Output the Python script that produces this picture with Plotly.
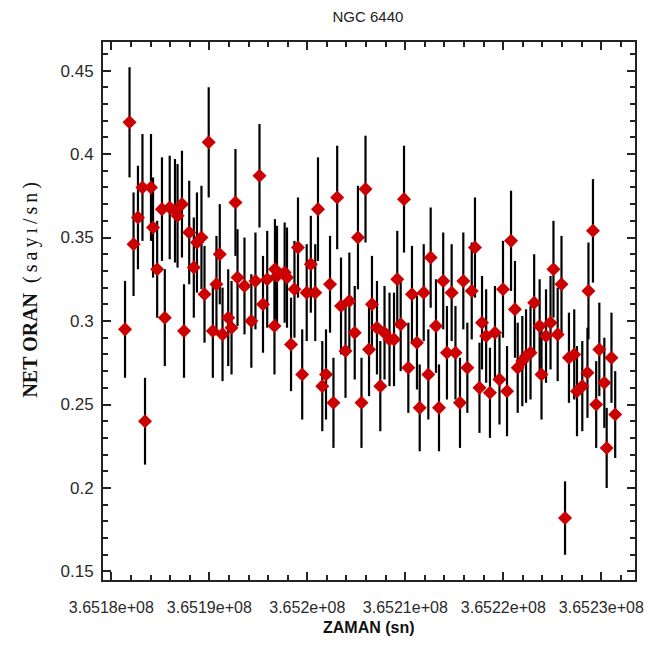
import plotly.graph_objects as go

# Observation times (s)
time_s = [
    365181400, 365181860, 365182270, 365182720, 365183180, 365183440, 365184050, 365184260,
    365184680, 365185170, 365185460, 365185960, 365186500, 365186760, 365187210, 365187420,
    365187950, 365188420, 365188740, 365189200, 365189510, 365189940, 365190360, 365190730,
    365191070, 365191350, 365191930, 365192270, 365192670, 365192880, 365193590, 365194290,
    365194710, 365195120, 365195480, 365195910, 365196700, 365196650, 365196910, 365197690,
    365197930, 365198340, 365198690, 365199050, 365199480, 365199940, 365200360, 365200810,
    365201090, 365201530, 365201910, 365202320, 365202670, 365203050, 365203440, 365203900,
    365204290, 365204840, 365205170, 365205530, 365205940, 365206300, 365206600, 365207110,
    365207450, 365207880, 365208390, 365208850, 365209180, 365209530, 365209870, 365210310,
    365210680, 365211190, 365211470, 365211880, 365212350, 365212590, 365213130, 365213440,
    365213870, 365214250, 365214730, 365215120, 365215580, 365215920, 365216330, 365216780,
    365217110, 365217570, 365217830, 365218250, 365218640, 365219150, 365219610, 365219970,
    365220380, 365220790, 365221190, 365221470, 365221940, 365222320, 365222780, 365223150,
    365223710, 365223900, 365224360, 365224820, 365225120, 365225550, 365225940, 365226300,
    365226700, 365227240, 365227520, 365228060, 365228590, 365228690, 365229150, 365229480,
    365229800, 365230310, 365230550, 365231040, 365231420,
]

# Net count rate (counts/s)
net_rate = [
    0.295, 0.419, 0.346, 0.362, 0.380, 0.240, 0.380, 0.356,
    0.331, 0.367, 0.302, 0.368, 0.366, 0.363, 0.370, 0.294,
    0.353, 0.332, 0.347, 0.350, 0.316, 0.407, 0.294, 0.322,
    0.340, 0.292, 0.302, 0.296, 0.371, 0.326, 0.321, 0.300,
    0.324, 0.387, 0.310, 0.325, 0.331, 0.297, 0.327, 0.329,
    0.326, 0.286, 0.319, 0.344, 0.268, 0.317, 0.334, 0.317,
    0.367, 0.261, 0.268, 0.322, 0.251, 0.374, 0.309, 0.282,
    0.312, 0.293, 0.350, 0.251, 0.379, 0.283, 0.310, 0.296,
    0.261, 0.293, 0.289, 0.289, 0.325, 0.298, 0.373, 0.272,
    0.316, 0.287, 0.248, 0.317, 0.268, 0.338, 0.297, 0.248,
    0.324, 0.281, 0.317, 0.281, 0.251, 0.324, 0.272, 0.318,
    0.344, 0.260, 0.299, 0.291, 0.257, 0.293, 0.265, 0.319,
    0.258, 0.348, 0.307, 0.272, 0.276, 0.279, 0.281, 0.311,
    0.297, 0.268, 0.291, 0.299, 0.331, 0.292, 0.322, 0.182,
    0.278, 0.280, 0.258, 0.261, 0.269, 0.318, 0.354, 0.250,
    0.283, 0.263, 0.224, 0.278, 0.244,
]

# 1-sigma errors
rate_err = [
    0.029, 0.033, 0.031, 0.031, 0.032, 0.026, 0.032, 0.030,
    0.029, 0.031, 0.029, 0.031, 0.031, 0.031, 0.032, 0.028,
    0.031, 0.030, 0.030, 0.031, 0.029, 0.033, 0.028, 0.029,
    0.030, 0.028, 0.029, 0.028, 0.032, 0.029, 0.029, 0.028,
    0.029, 0.031, 0.029, 0.029, 0.030, 0.029, 0.030, 0.030,
    0.030, 0.028, 0.029, 0.030, 0.027, 0.029, 0.029, 0.029,
    0.031, 0.027, 0.027, 0.029, 0.027, 0.031, 0.029, 0.028,
    0.029, 0.028, 0.031, 0.027, 0.032, 0.028, 0.029, 0.028,
    0.027, 0.028, 0.028, 0.028, 0.029, 0.028, 0.032, 0.027,
    0.029, 0.028, 0.026, 0.029, 0.027, 0.030, 0.028, 0.026,
    0.029, 0.028, 0.029, 0.028, 0.027, 0.029, 0.027, 0.029,
    0.030, 0.027, 0.028, 0.028, 0.027, 0.028, 0.027, 0.029,
    0.027, 0.030, 0.029, 0.027, 0.027, 0.028, 0.028, 0.029,
    0.028, 0.027, 0.028, 0.028, 0.029, 0.028, 0.029, 0.022,
    0.027, 0.027, 0.027, 0.027, 0.027, 0.029, 0.031, 0.026,
    0.028, 0.027, 0.024, 0.027, 0.026,
]

x_tick_vals = [365180000, 365190000, 365200000, 365210000, 365220000, 365230000]
x_tick_text = ["3.6518e+08", "3.6519e+08", "3.652e+08", "3.6521e+08", "3.6522e+08", "3.6523e+08"]
y_tick_vals = [0.15, 0.2, 0.25, 0.3, 0.35, 0.4, 0.45]
y_tick_text = ["0.15", "0.2", "0.25", "0.3", "0.35", "0.4", "0.45"]

fig = go.Figure()
fig.add_trace(go.Scatter(
    x=time_s, y=net_rate, mode="markers",
    marker=dict(symbol="diamond", size=10.8, color="#cc0000", line=dict(width=0)),
    error_y=dict(type="data", array=rate_err, visible=True, color="black", thickness=2.2, width=0),
    showlegend=False,
))

axis_common = dict(
    showline=True, linecolor="#222", linewidth=2, mirror="allticks",
    ticks="inside", ticklen=8, tickwidth=1.5, tickcolor="#222",
    showgrid=False, zeroline=False, automargin=False, tickangle=0,
    ticklabeloverflow="allow",
)

fig.update_xaxes(
    range=[365179153, 365233440], tickmode="array", tickvals=x_tick_vals, ticktext=x_tick_text,
    minor=dict(ticks="inside", ticklen=5, tickwidth=1.5, tickcolor="#222", tick0=365180000, dtick=2000, showgrid=False),
    ticklabelstandoff=12,
    tickfont=dict(family="Liberation Sans, Arial, sans-serif", size=16, color="#2a2a2a"),
    **axis_common,
)
fig.update_yaxes(
    range=[0.1449, 0.4671], tickmode="array", tickvals=y_tick_vals, ticktext=y_tick_text,
    minor=dict(ticks="inside", ticklen=5, tickwidth=1.5, tickcolor="#222", tick0=0.15, dtick=0.01, showgrid=False),
    ticklabelstandoff=4,
    tickfont=dict(family="Liberation Sans, Arial, sans-serif", size=17, color="#2a2a2a"),
    **axis_common,
)

fig.add_annotation(
    text="<b>NET ORAN</b>  (\u2009s\u2009a\u2009y\u2009ı\u2009/\u2009s\u2009n\u2009)",
    xref="paper", yref="paper", x=-0.137, y=0.54, xanchor="center", yanchor="middle",
    textangle=-90, showarrow=False,
    font=dict(family="Liberation Serif, Times New Roman, serif", size=20, color="#111"),
)
fig.add_annotation(
    text="<b>ZAMAN (sn)</b>",
    xref="paper", yref="paper", x=0.5, y=-0.0892, xanchor="center", yanchor="middle",
    showarrow=False,
    font=dict(family="Liberation Sans, Arial, sans-serif", size=16, color="#111"),
)

# page body has an 8px default margin: figure is sized so the page fits the 652x653 window
fig.update_layout(
    width=636, height=637,
    margin=dict(l=95, r=9, t=34, b=65),
    paper_bgcolor="white", plot_bgcolor="white",
    title=dict(text="NGC 6440", x=0.566, xanchor="center", y=1 - 9 / 637, yanchor="middle", yref="container",
               font=dict(family="Liberation Sans, Arial, sans-serif", size=15, color="#222")),
)

fig.write_html("out.html")
